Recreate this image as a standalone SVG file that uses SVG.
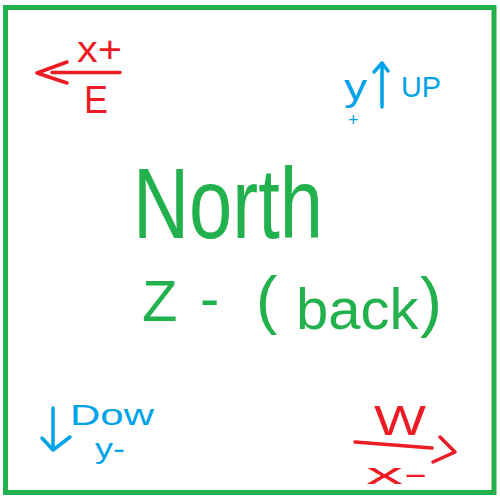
<svg xmlns="http://www.w3.org/2000/svg" width="500" height="500" viewBox="0 0 500 500">
<style>
text{font-family:"Liberation Sans","DejaVu Sans",sans-serif;}
.r{fill:#ed1c24}.b{fill:#00a2e8}.g{fill:#22b14c}
.sr{stroke:#ed1c24}.sb{stroke:#00a2e8}
.ln{fill:none;stroke-width:3.5;stroke-linecap:round;stroke-linejoin:round}
</style>
<rect x="5.5" y="7.5" width="488.5" height="485" fill="#ffffff" stroke="#22b14c" stroke-width="5"/>
<g id="east">
<text class="r" x="77" y="62" font-size="36" textLength="45" lengthAdjust="spacingAndGlyphs">x+</text>
<path class="ln sr" d="M52,72.5 L120,72.5 M67,62 L37,73 L67,83"/>
<text class="r" x="84" y="113" font-size="39" textLength="24" lengthAdjust="spacingAndGlyphs">E</text>
</g>
<g id="up">
<text class="b" x="344" y="100" font-size="36" textLength="23" lengthAdjust="spacingAndGlyphs">y</text>
<path class="ln sb" d="M382,63 L382,107 M374,72 L382,63 L388,71"/>
<text class="b" x="401" y="97" font-size="30" textLength="40" lengthAdjust="spacingAndGlyphs">UP</text>
<text class="b" x="348" y="126" font-size="18">+</text>
</g>
<g id="north">
<text class="g" x="133" y="238" font-size="100" textLength="190" lengthAdjust="spacingAndGlyphs">North</text>
<text class="g" font-size="58"><tspan x="142" y="321">Z</tspan><tspan x="200" y="318">-</tspan><tspan x="256" y="322" font-size="64">(</tspan><tspan x="296" y="329">back</tspan><tspan x="420" y="324" font-size="66">)</tspan></text>
</g>
<g id="down">
<path class="ln sb" d="M53,408 L53,450 M42,438 L53,450 L70,437"/>
<text class="b" x="70" y="425" font-size="30" textLength="84" lengthAdjust="spacingAndGlyphs">Dow</text>
<text class="b" x="95" y="458" font-size="28" textLength="30" lengthAdjust="spacingAndGlyphs">y-</text>
</g>
<g id="west">
<text class="r" x="374" y="435" font-size="42" textLength="52" lengthAdjust="spacingAndGlyphs">W</text>
<path class="ln sr" d="M355,442 L432,448 M440,437 L455,452 L433,462"/>
<text class="r" x="366" y="484" font-size="30" textLength="62" lengthAdjust="spacingAndGlyphs">x-</text>
</g>
</svg>
